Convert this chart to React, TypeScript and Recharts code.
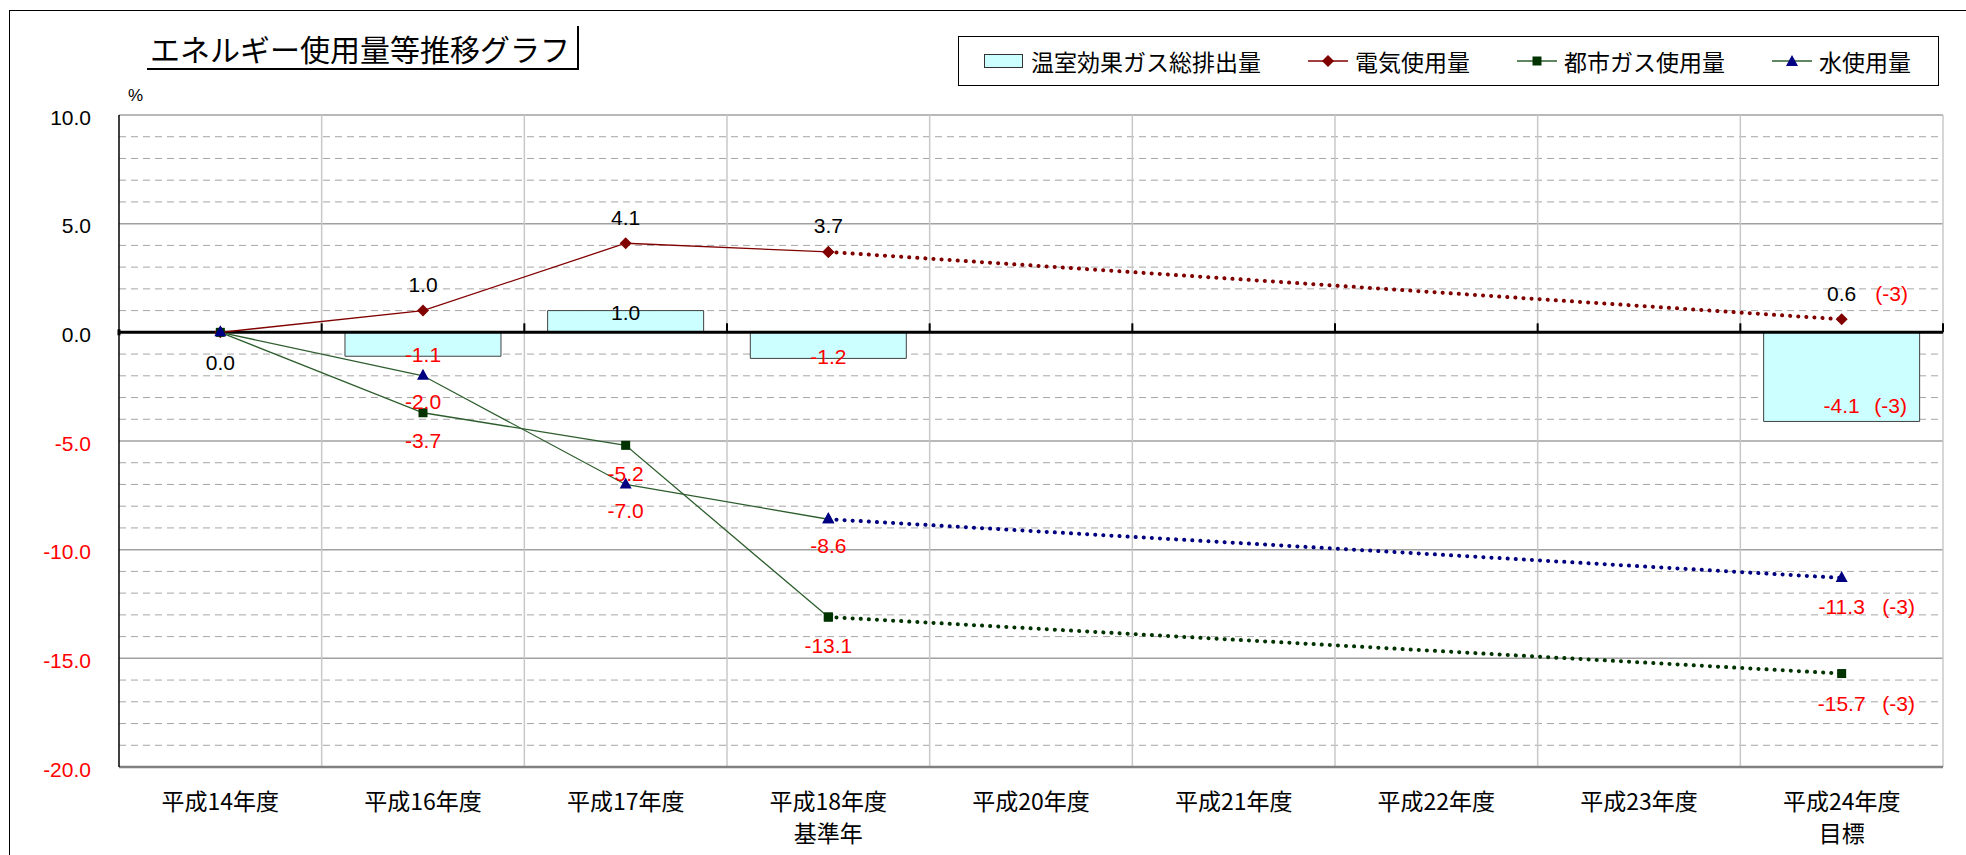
import React from 'react';
import { ComposedChart, Bar, Line, XAxis, YAxis, CartesianGrid, ReferenceLine, LabelList } from 'recharts';

const categories = ['平成14年度', '平成16年度', '平成17年度', '平成18年度\n基準年', '平成20年度', '平成21年度', '平成22年度', '平成23年度', '平成24年度\n目標'];
const ghgTotal = [null, -1.1, 1.0, -1.2, null, null, null, null, -4.1];
const electricity = [0.0, 1.0, 4.1, 3.7, null, null, null, null, null];
const electricityTarget = [null, null, null, 3.7, null, null, null, null, 0.6];
const cityGas = [0.0, -3.7, -5.2, -13.1, null, null, null, null, null];
const cityGasTarget = [null, null, null, -13.1, null, null, null, null, -15.7];
const water = [0.0, -2.0, -7.0, -8.6, null, null, null, null, null];
const waterTarget = [null, null, null, -8.6, null, null, null, null, -11.3];
const targetNote = ['', '', '', '', '', '', '', '', '(-3)'];

const seriesNames = ['温室効果ガス総排出量', '電気使用量', '都市ガス使用量', '水使用量'];
const yTicks = [10, 5, 0, -5, -10, -15, -20];
const yMajorGrid = [10, 5, -5, -10, -15, -20];
const yMinorGrid = [9, 8, 7, 6, 4, 3, 2, 1, -1, -2, -3, -4, -6, -7, -8, -9, -11, -12, -13, -14, -16, -17, -18, -19];

const data = categories.map((name, i) => ({
  name,
  ghg: ghgTotal[i],
  elec: electricity[i],
  elecT: electricityTarget[i],
  gas: cityGas[i],
  gasT: cityGasTarget[i],
  water: water[i],
  waterT: waterTarget[i],
}));

const NUM_FONT = '"Liberation Sans", Arial, sans-serif';
const CJK_FONT = '"Noto Sans CJK JP", "Noto Sans", sans-serif';
const RED = '#FF0000';
const ELEC = '#800000';
const GAS = '#003300';
const WATER = '#000080';
const SOLID_GREEN = '#2E5E2E';

const diamond = (p: any) => {
  const { cx, cy, index } = p;
  if (cy == null || cx == null) return <g key={index} />;
  return <path key={index} d={`M${cx},${cy - 6}L${cx + 6},${cy}L${cx},${cy + 6}L${cx - 6},${cy}Z`} fill={ELEC} />;
};
const square = (p: any) => {
  const { cx, cy, index } = p;
  if (cy == null || cx == null) return <g key={index} />;
  return <rect key={index} x={cx - 4.5} y={cy - 4.5} width={9} height={9} fill={GAS} />;
};
const triangle = (p: any) => {
  const { cx, cy, index } = p;
  if (cy == null || cx == null) return <g key={index} />;
  return <path key={index} d={`M${cx},${cy - 7}L${cx + 6},${cy + 4}L${cx - 6},${cy + 4}Z`} fill={WATER} />;
};

// labels next to line points
const pointLabel = (dy: number, color: string, from: number, to: number, noteDx = 56) => (p: any) => {
  const vb = p.viewBox || {};
  const x = p.x ?? vb.x;
  const y = p.y ?? vb.y;
  const { value, index } = p;
  if (value == null || y == null || index < from || index > to) return null;
  const note = targetNote[index];
  return (
    <g>
      <text x={x} y={y + dy} fill={color} fontSize={21} fontFamily={NUM_FONT} textAnchor="middle" dominantBaseline="central">
        {Number(value).toFixed(1)}
      </text>
      {note && (
        <text x={x + noteDx} y={y + dy} fill={RED} fontSize={21} fontFamily={NUM_FONT} textAnchor="middle" dominantBaseline="central">
          {note}
        </text>
      )}
    </g>
  );
};

const barLabel = (p: any) => {
  const vb = p.viewBox || {};
  const x = p.x ?? vb.x;
  const y = p.y ?? vb.y;
  const w = p.width ?? vb.width;
  const h = p.height ?? vb.height;
  const { value } = p;
  if (value == null || y == null) return null;
  const i = ghgTotal.indexOf(value);
  const note = i >= 0 ? targetNote[i] : '';
  const endY = value >= 0 ? Math.min(y, y + h) : Math.max(y, y + h);
  const ly = value >= 0 ? endY + 2 : endY - (note ? 16 : 2);
  const cx = x + w / 2;
  return (
    <g>
      <text x={cx} y={ly} fill={value < 0 ? RED : '#000'} fontSize={21} fontFamily={NUM_FONT} textAnchor="middle" dominantBaseline="central">
        {Number(value).toFixed(1)}
      </text>
      {note && (
        <text x={cx + 49} y={ly} fill={RED} fontSize={21} fontFamily={NUM_FONT} textAnchor="middle" dominantBaseline="central">
          {note}
        </text>
      )}
    </g>
  );
};

const YTick = (p: any) => {
  const v = p.payload.value;
  return (
    <text x={p.x} y={p.y} dy={2} textAnchor="end" dominantBaseline="central" fontSize={21} fontFamily={NUM_FONT} fill={v < 0 ? RED : '#000'}>
      {Number(v).toFixed(1)}
    </text>
  );
};

const XTick = (p: any) => {
  const lines = String(p.payload.value).split('\n');
  return (
    <g>
      {lines.map((t, i) => (
        <text key={i} x={p.x} y={p.y + 33 + i * 32} textAnchor="middle" dominantBaseline="central" fontSize={23} fontFamily={CJK_FONT} fill="#000">
          {t}
        </text>
      ))}
    </g>
  );
};

// zero line with small tick marks on category boundaries
const zeroLine = (p: any) => {
  const { x1, x2, y1 } = p;
  const step = (x2 - x1) / categories.length;
  return (
    <g>
      <line x1={x1} x2={x2} y1={y1} y2={y1} stroke="#000" strokeWidth={3} />
      {categories.map((_, i) => (
        <line key={i} x1={x1 + (i + 1) * step} x2={x1 + (i + 1) * step} y1={y1 - 9} y2={y1} stroke="#000" strokeWidth={2} />
      ))}
      <line x1={x1} x2={x1} y1={y1 - 3} y2={y1 + 3} stroke="#000" strokeWidth={3} />
    </g>
  );
};

const boundaries = ({ offset }: any) =>
  categories.map((_, i) => offset.left + ((i + 1) * offset.width) / categories.length);

const LegendMark = ({ i }: { i: number }) => {
  if (i === 0) {
    return (
      <svg width={40} height={16}>
        <rect x={0.5} y={1.5} width={38} height={13} fill="#CCFFFF" stroke="#333" />
      </svg>
    );
  }
  const line = i === 1 ? ELEC : SOLID_GREEN;
  return (
    <svg width={40} height={16}>
      <line x1={0} x2={40} y1={8} y2={8} stroke={line} strokeWidth={1.5} />
      {i === 1 && <path d="M20,2L26,8L20,14L14,8Z" fill={ELEC} />}
      {i === 2 && <rect x={15.5} y={3.5} width={9} height={9} fill={GAS} />}
      {i === 3 && <path d="M20,2L26,13L14,13Z" fill={WATER} />}
    </svg>
  );
};

const App = () => {
  return (
    <div style={{ position: 'absolute', left: 0, top: 0, width: 1966, height: 855, overflow: 'hidden', background: '#fff' }}>
      <div style={{ position: 'absolute', left: 9, top: 10, width: 2100, height: 1000, border: '1px solid #000' }} />

      <div
        style={{
          position: 'absolute', left: 147, top: 26, width: 427, height: 42,
          borderBottom: '2px solid #000', borderRight: '2px solid #000',
          fontFamily: CJK_FONT, fontSize: 30, lineHeight: '44px', paddingLeft: 3, boxSizing: 'content-box', whiteSpace: 'nowrap',
        }}
      >
        エネルギー使用量等推移グラフ
      </div>

      <div
        style={{
          position: 'absolute', left: 958, top: 36, width: 981, height: 50, border: '1px solid #000',
          display: 'flex', alignItems: 'center', paddingLeft: 25, boxSizing: 'border-box', gap: 47,
          fontFamily: CJK_FONT, fontSize: 23, whiteSpace: 'nowrap',
        }}
      >
        {seriesNames.map((n, i) => (
          <div key={n} style={{ display: 'flex', alignItems: 'center', gap: 7 }}>
            <LegendMark i={i} />
            <span>{n}</span>
          </div>
        ))}
      </div>

      <div style={{ position: 'absolute', left: 128, top: 86, fontFamily: NUM_FONT, fontSize: 17 }}>%</div>

      <div style={{ position: 'absolute', left: 0, top: 0 }}>
        <ComposedChart width={1966} height={855} data={data} margin={{ top: 115, right: 23, bottom: 28, left: 39 }} barCategoryGap="11.5%">
          <CartesianGrid horizontal vertical={false} horizontalValues={yMinorGrid} stroke="#A6A6A6" strokeDasharray="7 5" />
          <CartesianGrid horizontal vertical={false} horizontalValues={yMajorGrid} stroke="#A0A0A0" strokeWidth={1.5} />
          <CartesianGrid horizontal={false} vertical verticalCoordinatesGenerator={boundaries} stroke="#C8C8C8" strokeWidth={1.5} />
          <XAxis
            dataKey="name"
            height={60}
            tickLine={false}
            tickSize={0}
            tickMargin={0}
            interval={0}
            axisLine={{ stroke: '#808080', strokeWidth: 2.5 }}
            tick={<XTick />}
          />
          <YAxis
            type="number"
            domain={[-20, 10]}
            ticks={yTicks}
            width={80}
            tickLine={false}
            tickSize={0}
            tickMargin={28}
            axisLine={{ stroke: '#000', strokeWidth: 1.5 }}
            tick={<YTick />}
            interval={0}
          />
          <Bar dataKey="ghg" fill="#CCFFFF" stroke="#404040" strokeWidth={1} isAnimationActive={false}>
            <LabelList dataKey="ghg" content={barLabel} />
          </Bar>
          <ReferenceLine y={0} stroke="#000" strokeWidth={3} shape={zeroLine} />

          <Line dataKey="elecT" stroke={ELEC} strokeWidth={4} strokeDasharray="0.1 8" strokeLinecap="round" connectNulls dot={diamond} isAnimationActive={false}>
            <LabelList dataKey="elecT" content={pointLabel(-26, '#000', 8, 8, 50)} />
          </Line>
          <Line dataKey="gasT" stroke={GAS} strokeWidth={4} strokeDasharray="0.1 8" strokeLinecap="round" connectNulls dot={square} isAnimationActive={false}>
            <LabelList dataKey="gasT" content={pointLabel(30, RED, 8, 8, 57)} />
          </Line>
          <Line dataKey="waterT" stroke={WATER} strokeWidth={4} strokeDasharray="0.1 8" strokeLinecap="round" connectNulls dot={triangle} isAnimationActive={false}>
            <LabelList dataKey="waterT" content={pointLabel(29, RED, 8, 8, 57)} />
          </Line>

          <Line dataKey="elec" stroke={ELEC} strokeWidth={1.3} dot={diamond} isAnimationActive={false}>
            <LabelList dataKey="elec" content={pointLabel(30, '#000', 0, 0)} />
            <LabelList dataKey="elec" content={pointLabel(-26, '#000', 1, 3)} />
          </Line>
          <Line dataKey="gas" stroke={SOLID_GREEN} strokeWidth={1.3} dot={square} isAnimationActive={false}>
            <LabelList dataKey="gas" content={pointLabel(28, RED, 1, 3)} />
          </Line>
          <Line dataKey="water" stroke={SOLID_GREEN} strokeWidth={1.3} dot={triangle} isAnimationActive={false}>
            <LabelList dataKey="water" content={pointLabel(26, RED, 1, 3)} />
          </Line>
        </ComposedChart>
      </div>
    </div>
  );
};

export default App;
